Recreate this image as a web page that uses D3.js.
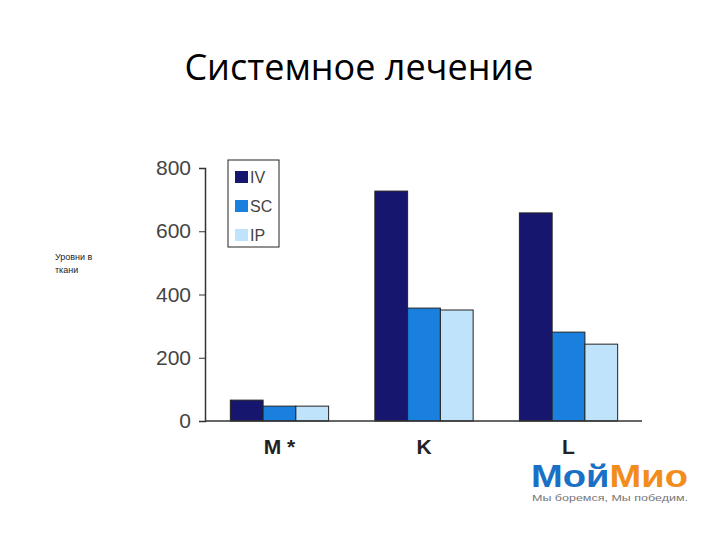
<!DOCTYPE html>
<html><head><meta charset="utf-8">
<script src="https://cdn.jsdelivr.net/npm/d3@7"></script>
<style>body{margin:0;background:#fff}</style>
</head><body><div id="chart"></div>
<script>
const categories = ['M *', 'K', 'L']
const seriesNames = ['IV', 'SC', 'IP']
const ivValues = [66, 727, 658]
const scValues = [47, 357, 281]
const ipValues = [47, 351, 243]
const yTicks = [0, 200, 400, 600, 800]

const width = 720, height = 540
const colors = ['#16166e', '#1a80e0', '#bfe3fb']
const values = [ivValues, scValues, ipValues]

const svg = d3.select('#chart').append('svg')
  .attr('width', width).attr('height', height)

svg.append('text').attr('x', 359).attr('y', 80)
  .attr('text-anchor', 'middle').attr('font-family', 'Open Sans, sans-serif')
  .attr('font-size', 36).attr('fill', '#000').text('Системное лечение')

const x0 = 205, x1 = 642, yTop = 168, yBot = 421
const x = d3.scaleBand().domain(categories).range([x0 + 8, x1 - 7]).paddingInner(0.32).paddingOuter(0.12)
const xs = d3.scaleBand().domain(seriesNames).range([0, x.bandwidth()])
const y = d3.scaleLinear().domain([0, 800]).range([yBot, yTop])

const g = svg.append('g')

// bars
seriesNames.forEach((s, i) => {
  g.selectAll('.b' + i).data(categories).enter().append('rect')
    .attr('x', c => x(c) + xs(s))
    .attr('y', (c, j) => y(values[i][j]))
    .attr('width', xs.bandwidth())
    .attr('height', (c, j) => yBot - y(values[i][j]))
    .attr('fill', colors[i]).attr('stroke', '#222').attr('stroke-width', 1)
})

const yAxis = d3.axisLeft(y).tickValues(yTicks).tickSize(6).tickPadding(8)
const yG = svg.append('g').attr('transform', `translate(${x0},0)`).call(yAxis)
yG.select('.domain').attr('stroke', '#333').attr('stroke-width', 1.5)
yG.selectAll('.tick line').attr('stroke', '#333')
yG.selectAll('text').attr('font-family', 'Liberation Sans, Arial, sans-serif')
  .attr('font-size', 21).attr('fill', '#444')

const xAxis = d3.axisBottom(x).tickSize(0).tickPadding(18)
const xG = svg.append('g').attr('transform', `translate(0,${yBot})`).call(xAxis)
xG.select('.domain').attr('d', `M${x0},0H${x1}`).attr('stroke', '#333').attr('stroke-width', 1.5)
xG.selectAll('text').attr('font-family', 'Liberation Sans, Arial, sans-serif')
  .attr('font-size', 21).attr('font-weight', 'bold').attr('fill', '#222')

// legend
const lg = svg.append('g').attr('transform', 'translate(228,160)')
lg.append('rect').attr('width', 51).attr('height', 87).attr('fill', '#fff').attr('stroke', '#222')
seriesNames.forEach((s, i) => {
  lg.append('rect').attr('x', 7).attr('y', 11 + i * 29).attr('width', 13).attr('height', 12).attr('fill', colors[i])
  lg.append('text').attr('x', 22).attr('y', 23 + i * 29)
    .attr('font-family', 'Liberation Sans, Arial, sans-serif').attr('font-size', 16).attr('fill', '#444').text(s)
})

// side label
const lab = svg.append('text').attr('font-family', 'Liberation Sans, Arial, sans-serif').attr('font-size', 9).attr('fill', '#222')
lab.append('tspan').attr('x', 55).attr('y', 260).text('Уровни в')
lab.append('tspan').attr('x', 55).attr('y', 273).text('ткани')

// logo
const logo = svg.append('text').attr('x', 531).attr('y', 487)
  .attr('font-family', 'Liberation Sans Narrow, Liberation Sans, Arial, sans-serif')
  .attr('font-size', 32).attr('font-weight', 'bold').attr('textLength', 157).attr('lengthAdjust', 'spacingAndGlyphs')
logo.append('tspan').attr('fill', '#1a70c4').text('Мой')
logo.append('tspan').attr('fill', '#f28c1c').text('Мио')
svg.append('text').attr('x', 532).attr('y', 501)
  .attr('font-family', 'Liberation Sans, Arial, sans-serif').attr('font-size', 9).attr('fill', '#777')
  .attr('textLength', 156).attr('lengthAdjust', 'spacingAndGlyphs').text('Мы боремся, Мы победим.')
</script></body></html>
